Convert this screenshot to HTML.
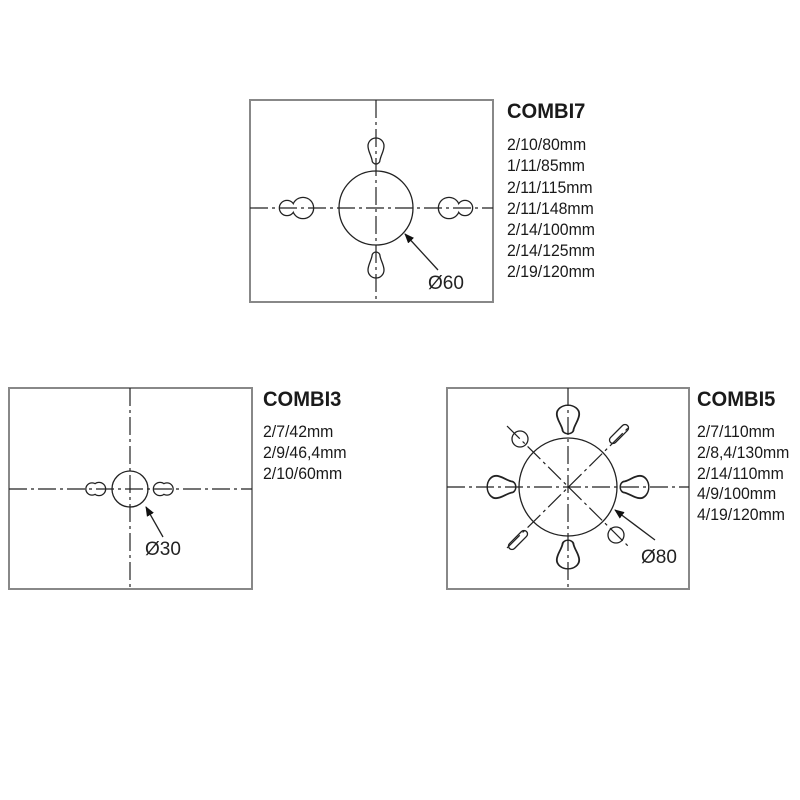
<!DOCTYPE html>
<html><head><meta charset="utf-8"><style>
html,body{margin:0;padding:0;background:#fff;width:800px;height:800px;overflow:hidden}
.t{font-family:"Liberation Sans",sans-serif;fill:#1a1a1a}
</style></head><body>
<svg width="800" height="800" viewBox="0 0 800 800" xmlns="http://www.w3.org/2000/svg">
<defs>
<path id="td" d="M -8 0 A 8 8 0 0 1 8 0 C 8 5 5 9 4 14 A 4 4 0 0 1 -4 14 C -5 9 -8 5 -8 0 Z" fill="#fff" stroke="#222" stroke-width="1.3"/>
<marker id="ah" markerWidth="10" markerHeight="8" refX="9" refY="4" orient="auto" markerUnits="userSpaceOnUse"><path d="M0 0 L10 4 L0 8 Z" fill="#111"/></marker>
</defs>
<g fill="none" stroke="#888" stroke-width="2">
<rect x="250" y="100" width="243" height="202"/>
<rect x="9" y="388" width="243" height="201"/>
<rect x="447" y="388" width="242" height="201"/>
</g>
<g stroke="#222" stroke-width="2.6" fill="#fff">
<circle cx="287" cy="208" r="7"/><circle cx="303" cy="208" r="10"/>
<circle cx="465" cy="208" r="7"/><circle cx="449" cy="208" r="10"/>
<circle cx="92" cy="489" r="5.5"/><circle cx="99" cy="489" r="6"/>
<circle cx="167" cy="489" r="5.5"/><circle cx="160" cy="489" r="6"/>
</g>
<g fill="#fff">
<circle cx="287" cy="208" r="7"/><circle cx="303" cy="208" r="10"/>
<circle cx="465" cy="208" r="7"/><circle cx="449" cy="208" r="10"/>
<circle cx="92" cy="489" r="5.5"/><circle cx="99" cy="489" r="6"/>
<circle cx="167" cy="489" r="5.5"/><circle cx="160" cy="489" r="6"/>
</g>
<use href="#td" transform="translate(376,146)"/>
<use href="#td" transform="translate(376,270) rotate(180)"/>
<use href="#td" transform="translate(568,414) scale(1.4,1.1)"/>
<use href="#td" transform="translate(568,560) rotate(180) scale(1.4,1.1)"/>
<use href="#td" transform="translate(496,487) rotate(-90) scale(1.4,1.1)"/>
<use href="#td" transform="translate(640,487) rotate(90) scale(1.4,1.1)"/>
<g fill="#fff" stroke="#222" stroke-width="1.3">
<circle cx="376" cy="208" r="37"/>
<circle cx="130" cy="489" r="18"/>
<circle cx="568" cy="487" r="49"/>
<circle cx="520" cy="439" r="8"/>
<circle cx="616" cy="535" r="8"/>
<rect x="-12" y="-3.5" width="24" height="7" rx="3.5" transform="translate(619,434) rotate(-45)"/>
<rect x="-12" y="-3.5" width="24" height="7" rx="3.5" transform="translate(518,540) rotate(-45)"/>
</g>
<g stroke="#222" stroke-width="1.2" stroke-dasharray="18 4 3 4" fill="none">
<line x1="376" y1="100" x2="376" y2="302"/><line x1="250" y1="208" x2="493" y2="208"/>
<line x1="130" y1="388" x2="130" y2="589"/><line x1="9" y1="489" x2="252" y2="489"/>
<line x1="568" y1="388" x2="568" y2="589"/><line x1="447" y1="487" x2="689" y2="487"/>
<line x1="507" y1="426" x2="630" y2="548"/><line x1="507" y1="548" x2="630" y2="426"/>
</g>
<g stroke="#222" stroke-width="1.3" marker-end="url(#ah)">
<line x1="438" y1="270" x2="405" y2="234"/>
<line x1="163" y1="537" x2="146" y2="507"/>
<line x1="655" y1="540" x2="615" y2="510"/>
</g>
<g font-family="Liberation Sans, sans-serif" font-size="19" fill="#222">
<text x="428" y="289">Ø60</text>
<text x="145" y="555">Ø30</text>
<text x="641" y="563">Ø80</text>
</g>
<g class="t" transform="translate(507,0) scale(0.96,1)">
<text x="0" y="118" font-size="21" font-weight="bold">COMBI7</text>
<g font-size="16.5">
<text x="0" y="150">2/10/80mm</text><text x="0" y="171">1/11/85mm</text>
<text x="0" y="193">2/11/115mm</text><text x="0" y="214">2/11/148mm</text>
<text x="0" y="235">2/14/100mm</text><text x="0" y="256">2/14/125mm</text>
<text x="0" y="277">2/19/120mm</text>
</g>
</g>
<g class="t" transform="translate(263,0) scale(0.96,1)">
<text x="0" y="406" font-size="21" font-weight="bold">COMBI3</text>
<g font-size="16.5">
<text x="0" y="437">2/7/42mm</text><text x="0" y="458">2/9/46,4mm</text><text x="0" y="479">2/10/60mm</text>
</g>
</g>
<g class="t" transform="translate(697,0) scale(0.96,1)">
<text x="0" y="406" font-size="21" font-weight="bold">COMBI5</text>
<g font-size="16.5">
<text x="0" y="437">2/7/110mm</text><text x="0" y="458">2/8,4/130mm</text>
<text x="0" y="479">2/14/110mm</text><text x="0" y="499">4/9/100mm</text>
<text x="0" y="520">4/19/120mm</text>
</g>
</g>
</svg>
</body></html>
